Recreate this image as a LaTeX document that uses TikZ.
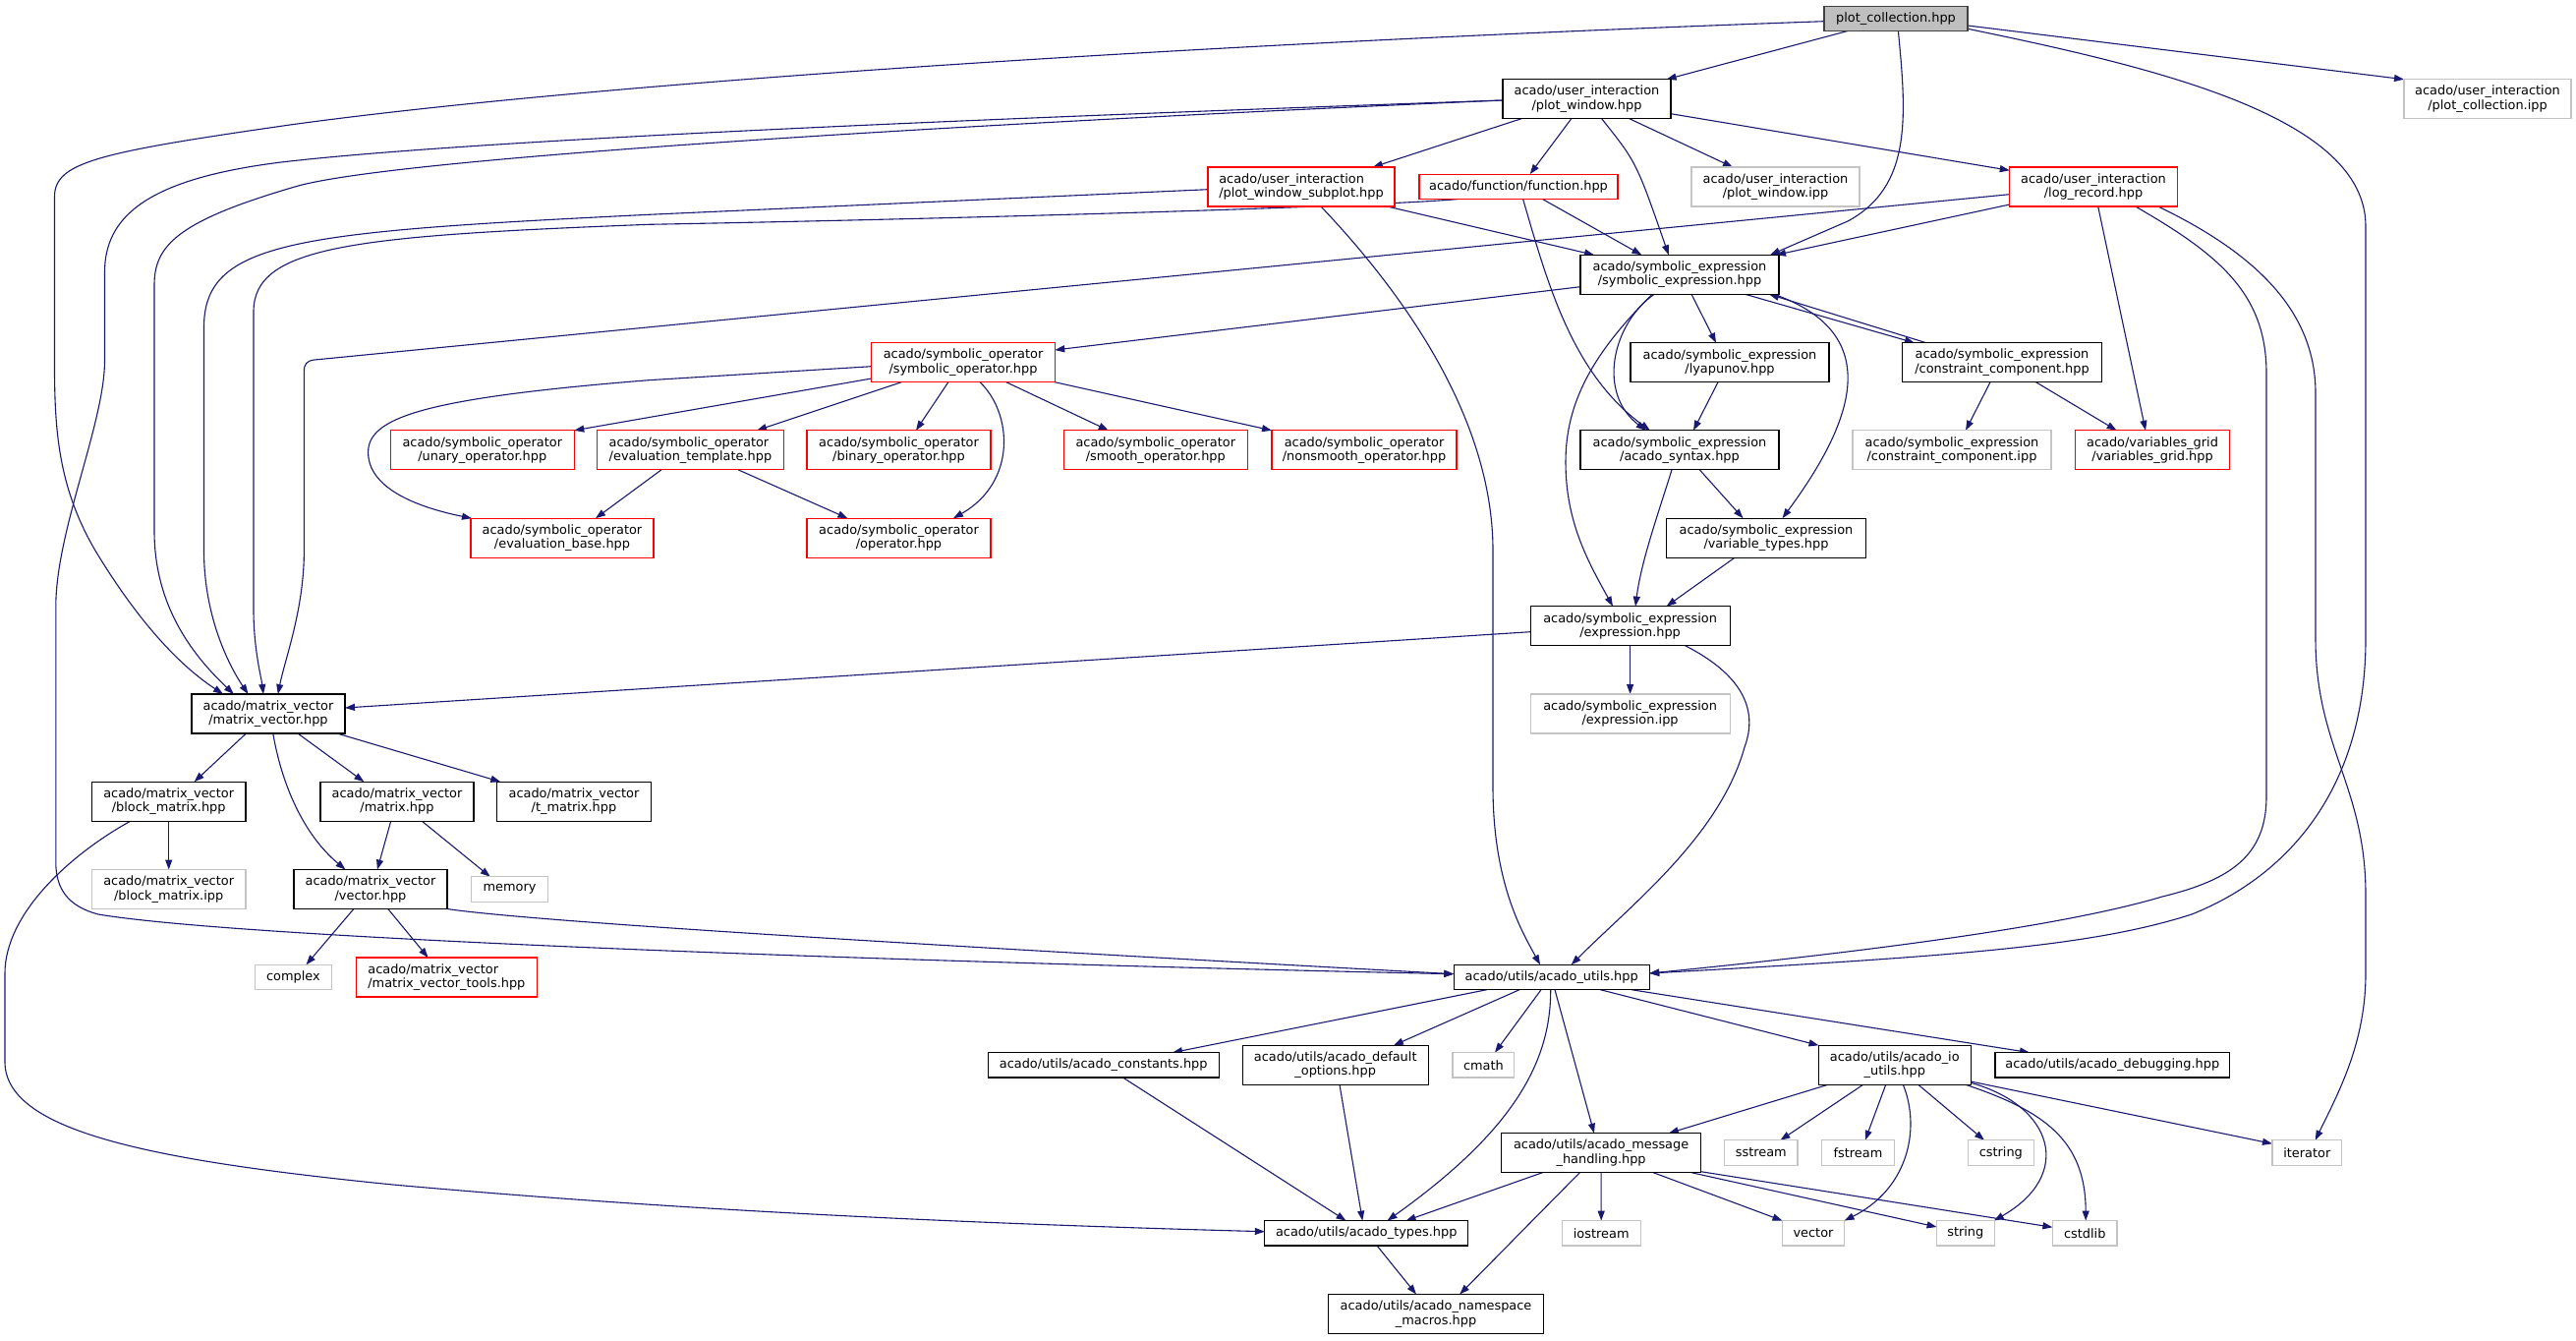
\documentclass[tikz,border=0pt]{standalone}
\usepackage{fontspec}
\setmainfont{DejaVu Sans}
\usetikzlibrary{arrows.meta}
\pgfdeclarelayer{bg}
\pgfsetlayers{bg,main}
\definecolor{edgec}{HTML}{191970}
\definecolor{grayb}{HTML}{C4C4C4}
\definecolor{rootf}{HTML}{BFBFBF}
\definecolor{rootb}{HTML}{404040}
\begin{document}
\begin{tikzpicture}[x=1pt,y=-1pt,
  nd/.style={rectangle,inner sep=0pt,outer sep=0pt,align=center,line width=1.1pt,fill=white,font=\fontsize{12.9}{14.3}\selectfont},
  blk/.style={nd,draw=black},
  rd/.style={nd,draw=red},
  gr/.style={nd,draw=grayb},
  rt/.style={nd,draw=rootb,fill=rootf},
  two/.style={minimum height=40pt},
  one/.style={minimum height=25.4pt},
  edg/.style={draw=edgec,line width=1.1pt,-{Triangle[length=10pt,width=7pt]}},
]
\useasboundingbox (0,0) rectangle (2621,1363);

% ---------- nodes ----------
\node[rt,one,minimum width=146pt] (root) at (1929,18.9) {plot\_collection.hpp};
\node[blk,two,minimum width=171pt] (pw) at (1614.5,100.7) {acado/user\_interaction\\/plot\_window.hpp};
\node[gr,two,minimum width=170pt] (pcipp) at (2531,100.7) {acado/user\_interaction\\/plot\_collection.ipp};
\node[rd,two,align=left,minimum width=190pt] (pws) at (1324,190) {acado/user\_interaction\\/plot\_window\_subplot.hpp};
\node[rd,one,minimum width=202pt] (fn) at (1545,189.8) {acado/function/function.hpp};
\node[gr,two,minimum width=171pt] (pwipp) at (1806.5,190) {acado/user\_interaction\\/plot\_window.ipp};
\node[rd,two,minimum width=170.5pt] (lr) at (2130,190) {acado/user\_interaction\\/log\_record.hpp};
\node[blk,two,minimum width=202pt] (se) at (1709,279.3) {acado/symbolic\_expression\\/symbolic\_expression.hpp};
\node[rd,two,minimum width=186.5pt] (so) at (980,368.7) {acado/symbolic\_operator\\/symbolic\_operator.hpp};
\node[blk,two,minimum width=202pt] (ly) at (1760,368.7) {acado/symbolic\_expression\\/lyapunov.hpp};
\node[blk,two,minimum width=203pt] (cc) at (2037,368.7) {acado/symbolic\_expression\\/constraint\_component.hpp};
\node[rd,two,minimum width=187pt] (un) at (490.8,457.8) {acado/symbolic\_operator\\/unary\_operator.hpp};
\node[rd,two,align=left,minimum width=189.5pt] (et) at (702.5,457.8) {acado/symbolic\_operator\\/evaluation\_template.hpp};
\node[rd,two,minimum width=187pt] (bo) at (914.5,457.8) {acado/symbolic\_operator\\/binary\_operator.hpp};
\node[rd,two,minimum width=187pt] (sm) at (1175.8,457.8) {acado/symbolic\_operator\\/smooth\_operator.hpp};
\node[rd,two,minimum width=188pt] (ns) at (1388,457.8) {acado/symbolic\_operator\\/nonsmooth\_operator.hpp};
\node[blk,two,minimum width=202pt] (sy) at (1709,457.8) {acado/symbolic\_expression\\/acado\_syntax.hpp};
\node[gr,two,minimum width=202pt] (ccipp) at (1986,457.8) {acado/symbolic\_expression\\/constraint\_component.ipp};
\node[rd,two,minimum width=157pt] (vg) at (2190,457.8) {acado/variables\_grid\\/variables\_grid.hpp};
\node[rd,two,minimum width=186pt] (eb) at (572,547.2) {acado/symbolic\_operator\\/evaluation\_base.hpp};
\node[rd,two,minimum width=187pt] (op) at (914.5,547.2) {acado/symbolic\_operator\\/operator.hpp};
\node[blk,two,minimum width=203pt] (vt) at (1797,547.2) {acado/symbolic\_expression\\/variable\_types.hpp};
\node[blk,two,minimum width=203pt] (ex) at (1658.6,636.7) {acado/symbolic\_expression\\/expression.hpp};
\node[gr,two,minimum width=203pt] (exipp) at (1658.6,726) {acado/symbolic\_expression\\/expression.ipp};
\node[blk,two,minimum width=156pt] (mv) at (273,726) {acado/matrix\_vector\\/matrix\_vector.hpp};
\node[blk,two,minimum width=156.6pt] (bm) at (171.7,815.2) {acado/matrix\_vector\\/block\_matrix.hpp};
\node[blk,two,minimum width=156pt] (mx) at (404,815.2) {acado/matrix\_vector\\/matrix.hpp};
\node[blk,two,minimum width=156.7pt] (tm) at (584,815.2) {acado/matrix\_vector\\/t\_matrix.hpp};
\node[gr,two,minimum width=156.6pt] (bmipp) at (171.7,904.5) {acado/matrix\_vector\\/block\_matrix.ipp};
\node[blk,two,minimum width=156pt] (vec) at (377,904.5) {acado/matrix\_vector\\/vector.hpp};
\node[gr,one,minimum width=77.5pt] (mem) at (518.5,904.5) {memory};
\node[gr,one,minimum width=78.3pt] (cpx) at (298.4,994) {complex};
\node[rd,two,align=left,minimum width=184pt] (mvt) at (454.4,994) {acado/matrix\_vector\\/matrix\_vector\_tools.hpp};
\node[blk,one,minimum width=199pt] (au) at (1578.7,994) {acado/utils/acado\_utils.hpp};
\node[blk,one,minimum width=235pt] (ac) at (1122.7,1083.3) {acado/utils/acado\_constants.hpp};
\node[blk,two,minimum width=189pt] (ado) at (1358.7,1083.3) {acado/utils/acado\_default\\\_options.hpp};
\node[gr,one,minimum width=62.8pt] (cm) at (1509.4,1083.3) {cmath};
\node[blk,two,minimum width=154.6pt] (io) at (1927.8,1083.3) {acado/utils/acado\_io\\\_utils.hpp};
\node[blk,one,minimum width=238.6pt] (dbg) at (2149.3,1083.3) {acado/utils/acado\_debugging.hpp};
\node[blk,two,minimum width=203pt] (mh) at (1629.1,1172.7) {acado/utils/acado\_message\\\_handling.hpp};
\node[gr,one,minimum width=74.4pt] (ss) at (1791.8,1172.5) {sstream};
\node[gr,one,minimum width=73.3pt] (fs) at (1890.5,1172.5) {fstream};
\node[gr,one,minimum width=66.5pt] (cs) at (2035.8,1172.5) {cstring};
\node[gr,one,minimum width=70.7pt] (it) at (2347.3,1172.5) {iterator};
\node[blk,one,minimum width=206.8pt] (at) at (1390.2,1254.3) {acado/utils/acado\_types.hpp};
\node[gr,one,minimum width=80pt] (ios) at (1629.2,1254.3) {iostream};
\node[gr,one,minimum width=62.3pt] (vc) at (1845,1254.3) {vector};
\node[gr,one,minimum width=58.5pt] (st) at (1999.8,1254.3) {string};
\node[gr,one,minimum width=65.6pt] (csl) at (2121.2,1254.3) {cstdlib};
\node[blk,two,minimum width=219pt] (nm) at (1461,1336.5) {acado/utils/acado\_namespace\\\_macros.hpp};

% ---------- edges ----------
\begin{pgfonlayer}{bg}
\fill[white] (0,0) rectangle (2621,1363);
% root
\draw[edg] ([yshift=-2.8]root.west) .. controls (1200,45) and (600,85) .. (295,127) .. controls (100,155) and (55.5,165) .. (55.5,200) -- (55.5,380) .. controls (56,440) and (60,500) .. (100,565) .. controls (140,630) and (180,675) .. ([xshift=-46]mv.north);
\draw[edg] ([xshift=-49.4]root.south) -- ([xshift=81.1]pw.north);
\draw[edg] ([xshift=2.4]root.south) .. controls (1940,120) and (1945,190) .. (1880,225) -- ([xshift=92]se.north);
\draw[edg] ([yshift=-7.1]root.east) -- (pcipp.north west);
\draw[edg] ([yshift=-10.4]root.east) .. controls (2200,70) and (2407,120) .. (2407,230) -- (2407,650) .. controls (2407,800) and (2330,890) .. (2230,930) .. controls (2130,962) and (2000,972) .. ([yshift=4]au.east);
% plot_window
\draw[edg] ([xshift=-66.5]pw.south) -- ([xshift=72.8]pws.north);
\draw[edg] ([xshift=-15.7]pw.south) -- ([xshift=11.7]fn.north);
\draw[edg] ([xshift=15.1]pw.south) .. controls (1665,165) .. ([xshift=-11.2]se.north);
\draw[edg] ([xshift=43.3]pw.south) -- ([xshift=-43.5]pwipp.north);
\draw[edg] ([yshift=-15]pw.east) -- ([yshift=-3.3]lr.north west);
\draw[edg] ([yshift=-1.3]pw.west) .. controls (1100,117) and (500,140) .. (286,165) .. controls (150,182) and (106.5,220) .. (106.5,277) -- (106.5,367) .. controls (106.5,430) and (56.8,540) .. (56.8,617) -- (56.8,877) .. controls (56.8,905) and (70,922) .. (100,930) .. controls (250,955) and (900,978) .. ([yshift=3.3]au.west);
\draw[edg] ([yshift=-1.3]pw.west) .. controls (1000,125) and (400,160) .. (300,190) .. controls (180,225) and (157,250) .. (157,290) -- (157,540) .. controls (157,620) and (200,670) .. ([xshift=-35.2]mv.north);
% plot_window_subplot
\draw[edg] ([yshift=-2.7]pws.west) -- (660,218.3) .. controls (300,236) and (207.5,245) .. (207.5,333) -- (207.5,560) .. controls (207.5,630) and (235,680) .. ([xshift=-20.5]mv.north);
\draw[edg] ([xshift=87.5]pws.south) -- ([xshift=-87]se.north);
\draw[edg] ([xshift=20]pws.south) .. controls (1420,290) and (1519,420) .. (1519,560) -- (1519,800) .. controls (1519,900) and (1550,950) .. ([xshift=-11.7]au.north);
% function
\draw[edg] ([xshift=-61]fn.south) .. controls (1400,210) and (1000,222) .. (660,228.3) .. controls (360,240) and (258,250) .. (258,317) -- (258,620) .. controls (258,660) and (266,690) .. ([xshift=-5]mv.north);
\draw[edg] ([xshift=24.4]fn.south) -- ([xshift=-38.6]se.north);
\draw[edg] ([xshift=4.6]fn.south) .. controls (1575,290) and (1600,380) .. ([xshift=-30.2]sy.north);
% log_record
\draw[edg] ([yshift=-7.7]lr.west) -- (320,366) .. controls (312,367) and (309.4,370) .. (309.4,378) -- (309.4,560) .. controls (309.4,620) and (290,670) .. ([xshift=9.8]mv.north);
\draw[edg] ([yshift=-18]lr.west) -- ([xshift=98]se.north);
\draw[edg] ([xshift=4.7]lr.south) -- ([xshift=-7]vg.north);
\draw[edg] ([xshift=42.6]lr.south) .. controls (2260,260) and (2306,300) .. (2306,380) -- (2306,810) .. controls (2306,870) and (2270,895) .. (2200,912) .. controls (2100,942) and (1900,968) .. ([yshift=4]au.east);
\draw[edg] ([xshift=65.7]lr.south) .. controls (2300,260) and (2356,320) .. (2356,400) -- (2356,650) .. controls (2356,760) and (2407,800) .. (2407,910) -- (2407,990) .. controls (2407,1060) and (2380,1110) .. ([xshift=8.4]it.north);
% symbolic_expression
\draw[edg] ([yshift=-12.4]se.west) -- ([yshift=12.7]so.east);
\draw[edg] ([xshift=12]se.south) -- ([xshift=-14]ly.north);
\draw[edg] ([xshift=66.6]se.south) -- ([xshift=12.4]cc.north west);
\draw[edg] ([xshift=24.4]cc.north west) -- ([xshift=91]se.south);
\draw[edg] ([xshift=-26]se.south) .. controls (1640,330) and (1625,400) .. ([xshift=-34.4]sy.north);
\draw[edg] ([xshift=-28]se.south) .. controls (1620,360) and (1593,410) .. (1593,470) .. controls (1593,530) and (1615,570) .. ([xshift=-17.6]ex.north);
\draw[edg] ([xshift=96]se.south) .. controls (1920,340) and (1885,430) .. ([xshift=16.5]vt.north);
% lyapunov, constraint_component
\draw[edg] ([xshift=-12]ly.south) -- ([xshift=14]sy.north);
\draw[edg] ([xshift=-12]cc.south) -- ([xshift=14]ccipp.north);
\draw[edg] ([xshift=34.5]cc.south) -- ([xshift=-36.4]vg.north);
% symbolic_operator
\draw[edg] ([yshift=-16.3]so.west) -- (un.north east);
\draw[edg] ([yshift=-4]so.west) -- (660,386.7) .. controls (430,405) and (374.6,425) .. (374.6,460) .. controls (374.6,495) and (420,515) .. ([xshift=1]eb.north west);
\draw[edg] ([xshift=-62.7]so.south) -- ([xshift=67.5]et.north);
\draw[edg] ([xshift=-15.2]so.south) -- ([xshift=17.5]bo.north);
\draw[edg] ([xshift=17]so.south) .. controls (1030,420) and (1035,490) .. ([xshift=55.5]op.north);
\draw[edg] ([xshift=43.8]so.south) -- ([xshift=-48]sm.north);
\draw[edg] (so.south east) -- (ns.north west);
% evaluation_template
\draw[edg] ([xshift=-29.5]et.south) -- ([xshift=34]eb.north);
\draw[edg] ([xshift=48.5]et.south) -- ([xshift=-52]op.north);
% acado_syntax, variable_types
\draw[edg] ([xshift=20.3]sy.south) -- ([xshift=-23.5]vt.north);
\draw[edg] ([xshift=-8]sy.south) .. controls (1688,520) and (1670,570) .. ([xshift=5.4]ex.north);
\draw[edg] ([xshift=-32]vt.south) -- ([xshift=37]ex.north);
% expression
\draw[edg] ([yshift=-6]ex.west) -- ([yshift=6]mv.east);
\draw[edg] (ex.south) -- (exipp.north);
\draw[edg] ([xshift=56]ex.south) .. controls (1770,685) and (1790,720) .. (1775,760) .. controls (1750,850) and (1660,920) .. ([xshift=20]au.north);
% matrix_vector
\draw[edg] ([xshift=-22.6]mv.south) -- ([xshift=26]bm.north);
\draw[edg] ([xshift=4.8]mv.south) .. controls (287,800) and (310,850) .. ([xshift=-25.5]vec.north);
\draw[edg] ([xshift=30]mv.south) -- ([xshift=-33.6]mx.north);
\draw[edg] ([xshift=70]mv.south) -- ([xshift=-74.7]tm.north);
% block_matrix
\draw[edg] (bm.south) -- (bmipp.north);
\draw[edg] ([xshift=-39]bm.south) .. controls (70,870) and (5,930) .. (5,990) -- (5,1080) .. controls (5,1150) and (150,1180) .. (400,1205) .. controls (700,1232) and (1000,1245) .. ([yshift=1.6]at.west);
% matrix, vector
\draw[edg] ([xshift=-6.3]mx.south) -- ([xshift=6.9]vec.north);
\draw[edg] ([xshift=25.3]mx.south) -- ([xshift=-19.7]mem.north);
\draw[edg] ([xshift=-17.1]vec.south) -- ([xshift=13.1]cpx.north);
\draw[edg] ([xshift=17.8]vec.south) -- ([xshift=-18.8]mvt.north);
\draw[edg] (vec.south east) .. controls (560,940) and (1100,970) .. ([yshift=3.3]au.west);
% acado_utils
\draw[edg] ([xshift=-66]au.south) -- ([xshift=70.3]ac.north);
\draw[edg] ([xshift=-32.7]au.south) -- ([xshift=59.2]ado.north);
\draw[edg] ([xshift=-10.7]au.south) -- ([xshift=11.6]cm.north);
\draw[edg] ([xshift=-1]au.south) .. controls (1578,1080) and (1540,1150) .. ([xshift=21.3]at.north);
\draw[edg] ([xshift=3.3]au.south) -- ([xshift=-7.1]mh.north);
\draw[edg] ([xshift=49.6]au.south) -- (io.north west);
\draw[edg] ([xshift=81.3]au.south) -- ([xshift=-84.3]dbg.north);
% default_options, constants
\draw[edg] ([xshift=4.3]ado.south) -- ([xshift=-3.9]at.north);
\draw[edg] ([xshift=19.8]ac.south) -- ([xshift=-20.7]at.north);
% io_utils
\draw[edg] ([xshift=-68]io.south) -- ([xshift=68.7]mh.north);
\draw[edg] ([xshift=-32.2]io.south) -- ([xshift=19.6]ss.north);
\draw[edg] ([xshift=-9.1]io.south) -- ([xshift=7.2]fs.north);
\draw[edg] ([xshift=8.6]io.south) .. controls (1955,1150) and (1940,1210) .. ([xshift=31.6]vc.north);
\draw[edg] ([xshift=24]io.south) -- ([xshift=-16.8]cs.north);
\draw[edg] ([yshift=2]io.south east) .. controls (2090,1125) and (2110,1195) .. ([xshift=29]st.north);
\draw[edg] ([xshift=72.2]io.south) .. controls (2080,1130) and (2122,1160) .. ([xshift=1]csl.north);
\draw[edg] ([yshift=-16.7]io.east) -- ([yshift=9.2]it.west);
% message_handling
\draw[edg] ([xshift=-59.7]mh.south) -- ([xshift=40.3]at.north);
\draw[edg] ([xshift=-21.8]mh.south) -- ([xshift=24.2]nm.north);
\draw[edg] (mh.south) -- (ios.north);
\draw[edg] ([xshift=53.1]mh.south) -- ([xshift=-31.5]vc.north);
\draw[edg] ([xshift=91.9]mh.south) -- ([yshift=6.3]st.west);
\draw[edg] ([yshift=-19]mh.east) -- ([yshift=6]csl.west);
% acado_types
\draw[edg] ([xshift=10.8]at.south) -- ([xshift=-20]nm.north);
\end{pgfonlayer}
\end{tikzpicture}
\end{document}
